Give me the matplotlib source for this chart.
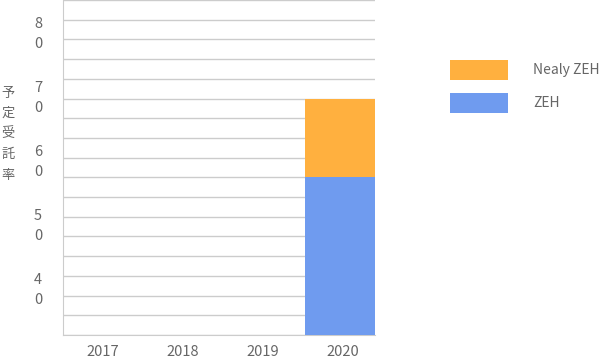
import matplotlib
matplotlib.use("Agg")
import matplotlib.pyplot as plt
import numpy as np
from matplotlib.patches import Rectangle

plt.rcParams['font.family'] = ['Noto Sans CJK JP', 'DejaVu Sans']

years = ["2017", "2018", "2019", "2020"]
zeh = [0, 0, 0, 56.9]
nealy_zeh = [0, 0, 0, 12.3]
ytick_vals = [40, 50, 60, 70, 80]
ytick_labels = ["4\n0", "5\n0", "6\n0", "7\n0", "8\n0"]

W, H = 600, 361
fig = plt.figure(figsize=(W / 100, H / 100), dpi=100)
ax = fig.add_axes([63 / W, (H - 335) / H, (375 - 63) / W, 335 / H])

ymin, ymax = 32.3, 84.6
x = np.arange(len(years))
blue = "#6F9BEF"
orange = "#FFB03F"
ax.bar(x, zeh, width=0.95, color=blue, zorder=3)
ax.bar(x, nealy_zeh, bottom=zeh, width=0.95, color=orange, zorder=3)

ax.set_xlim(-0.5, 3.4)
ax.set_ylim(ymin, ymax)

# gridlines
ax.set_yticks(np.linspace(ymin, ymax, 18), minor=True)
ax.grid(True, axis='y', which='minor', color='#cccccc', linewidth=1, zorder=4)
ax.set_yticks(ytick_vals)
ax.set_yticklabels(ytick_labels, fontsize=10.5, color='#666666', linespacing=1.55)
for lab in ax.get_yticklabels():
    lab.set_ha('center')
ax.tick_params(axis='y', which='both', length=0, pad=18)
ax.set_xticks(x)
ax.set_xticklabels(years, fontsize=10.5, color='#666666')
ax.tick_params(axis='x', length=0, pad=7)

for s in ['top', 'right']:
    ax.spines[s].set_visible(False)
ax.spines['left'].set_color('#cccccc')
ax.spines['bottom'].set_color('#cccccc')

fig.text(8 / W, 1 - 134 / H, "予\n定\n受\n託\n率", fontsize=9.5, color='#666666',
         ha='center', va='center', linespacing=1.75)

# legend
fig.patches.append(Rectangle((450 / W, 1 - 80 / H), 58 / W, 20 / H, transform=fig.transFigure,
                             facecolor=orange, edgecolor='none'))
fig.patches.append(Rectangle((450 / W, 1 - 113 / H), 58 / W, 20 / H, transform=fig.transFigure,
                             facecolor=blue, edgecolor='none'))
fig.text(533 / W, 1 - 70 / H, "Nealy ZEH", fontsize=10, color='#666666', va='center')
fig.text(533 / W, 1 - 103 / H, "ZEH", fontsize=10, color='#666666', va='center')

fig.savefig("out.png", dpi=100)
